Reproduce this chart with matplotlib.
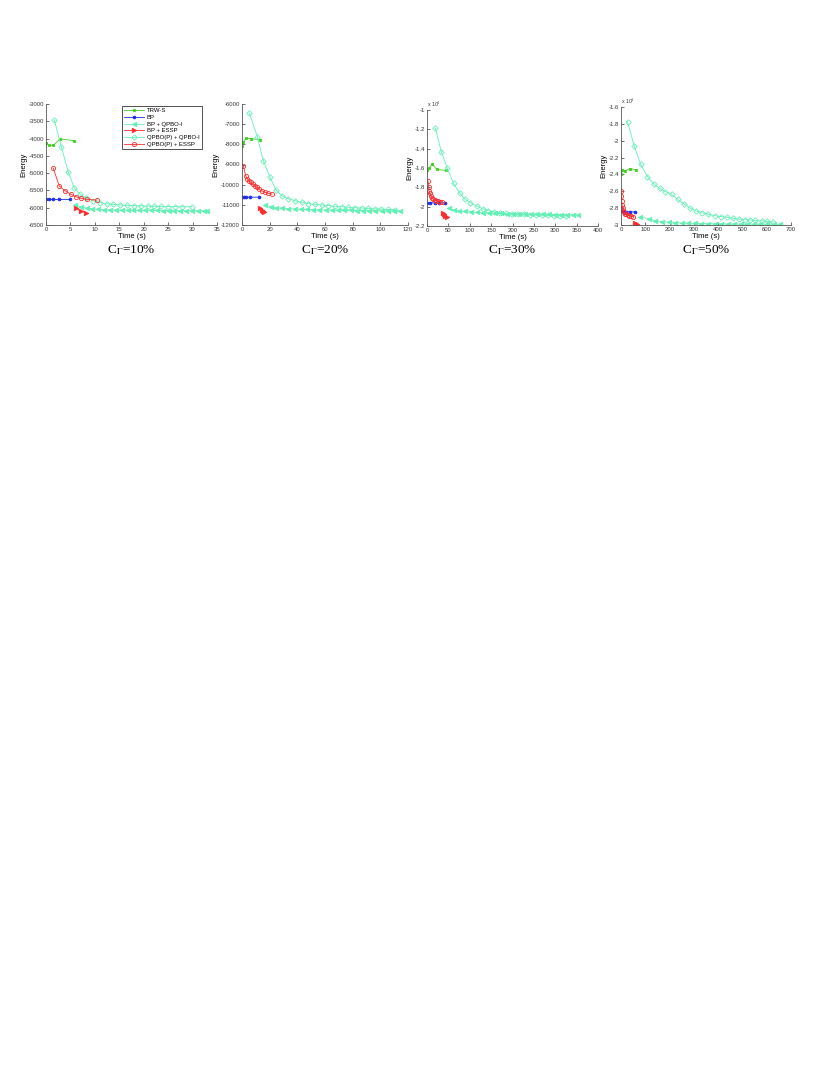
import matplotlib
matplotlib.use("Agg")
import matplotlib.pyplot as plt
from matplotlib.ticker import FuncFormatter

plt.rcParams['font.family'] = ['Liberation Sans', 'DejaVu Sans']
plt.rcParams['axes.unicode_minus'] = False
plt.rcParams['mathtext.fontset'] = 'stix'

W, H = 830, 1075

# series names and captions
names = ['TRW-S', 'BP', 'BP + QPBO-I', 'BP + ESSP', 'QPBO(P) + QPBO-I', 'QPBO(P) + ESSP']
captions = ['10%', '20%', '30%', '50%']

# ---- C = 10% ----
t1_trws = [0.1, 0.7, 1.5, 2.9, 5.7]
e1_trws = [-4140, -4200, -4190, -4010, -4060]
t1_bp = [0.1, 0.6, 1.4, 2.7, 4.9]
e1_bp = [-5750, -5750, -5750, -5750, -5750]
t1_bpq = [5.9, 7.1, 8.3, 9.5, 10.7, 11.9, 13.1, 14.3, 15.5, 16.7, 17.9, 19.1,
          20.3, 21.5, 22.7, 23.9, 25.1, 26.3, 27.5, 28.7, 29.9, 31.1, 32.3, 33.0]
e1_bpq = [-5920, -5975, -6015, -6035, -6050, -6058, -6063, -6067, -6070, -6072, -6074, -6076,
          -6077, -6078, -6080, -6081, -6082, -6083, -6084, -6085, -6086, -6087, -6088, -6090]
t1_bpe = [6.1, 7.1, 8.2]
e1_bpe = [-6010, -6100, -6140]
t1_qq = [1.7, 3.15, 4.55, 5.8, 7.0, 8.2, 9.6, 11.0, 12.4, 13.8, 15.2, 16.6, 18.0, 19.4,
         20.8, 22.2, 23.6, 25.0, 26.4, 27.8, 29.8]
e1_qq = [-3465, -4240, -4965, -5430, -5615, -5710, -5800, -5850, -5885, -5905, -5920, -5932,
         -5940, -5947, -5953, -5958, -5962, -5966, -5969, -5972, -5975]
t1_qe = [1.5, 2.7, 3.9, 5.1, 6.1, 7.2, 8.4, 10.4]
e1_qe = [-4860, -5370, -5510, -5615, -5680, -5730, -5760, -5780]

# ---- C = 20% ----
t2_trws = [0.2, 1.0, 3.2, 6.5, 13.2]
e2_trws = [-8100, -7880, -7700, -7720, -7770]
t2_bp = [0.3, 1.6, 3.0, 6.0, 12.3]
e2_bp = [-10620, -10610, -10620, -10620, -10620]
t2_bpq = [16.6, 20.7, 24.6, 28.7, 33.5, 38.0, 42.5, 47.0, 51.5, 56.0, 60.5, 65.0,
          69.5, 74.0, 78.5, 83.0, 87.5, 92.0, 96.5, 101.0, 105.5, 110.0, 114.5]
e2_bpq = [-11025, -11090, -11140, -11160, -11190, -11205, -11220, -11230, -11240, -11250,
          -11256, -11262, -11268, -11273, -11278, -11283, -11287, -11291, -11295, -11298,
          -11302, -11305, -11310]
t2_bpe = [13.0, 14.2, 15.4, 16.1]
e2_bpe = [-11175, -11255, -11305, -11340]
t2_qq = [5.3, 11.1, 15.4, 20.2, 24.6, 29.1, 33.5, 38.3, 43.1, 47.9, 52.8, 57.6, 62.4,
         67.2, 72.0, 76.8, 81.6, 86.4, 91.2, 96.0, 100.8, 105.6, 110.4]
e2_qq = [-6460, -7620, -8810, -9635, -10265, -10560, -10695, -10795, -10875, -10940,
         -10975, -11008, -11040, -11070, -11095, -11120, -11140, -11160, -11180, -11200,
         -11215, -11230, -11245]
t2_qe = [1.0, 2.7, 3.9, 5.1, 6.5, 7.7, 9.4, 10.6, 12.3, 14.2, 16.6, 19.0, 21.8]
e2_qe = [-9075, -9570, -9720, -9800, -9885, -9965, -10050, -10130, -10230, -10300,
         -10380, -10430, -10470]

# ---- C = 30% ----
t3_trws = [1, 5, 12.5, 22.7, 43.7]
e3_trws = [-16200, -16000, -15600, -16150, -16250]
t3_bp = [1, 8, 19, 28, 41]
e3_bp = [-19620, -19600, -19600, -19600, -19600]
t3_bpq = [51, 63, 75, 90, 104, 118, 132, 146, 160, 174, 188, 202, 216, 230, 244, 258,
          272, 286, 300, 314, 328, 342, 354]
e3_bpq = [-20170, -20340, -20440, -20500, -20550, -20590, -20620, -20650, -20670, -20690,
          -20710, -20730, -20745, -20760, -20775, -20790, -20800, -20810, -20820, -20830,
          -20840, -20845, -20850]
t3_bpe = [37, 40, 43, 46]
e3_bpe = [-20650, -20800, -20950, -21050]
t3_qq = [19.5, 33.5, 47, 62, 76.5, 88, 101, 116, 130, 143, 156, 170, 184, 198, 212, 226,
         240, 254, 268, 282, 296, 310, 324]
e3_qq = [-11890, -14310, -15980, -17580, -18580, -19200, -19570, -19930, -20220, -20400,
         -20530, -20620, -20690, -20740, -20780, -20810, -20840, -20860, -20880, -20900,
         -20920, -20935, -20950]
t3_qe = [2.3, 4, 4.7, 6.3, 8.6, 11, 14, 18, 21.8, 25.7, 30, 34]
e3_qe = [-17340, -18000, -18340, -18620, -18890, -19070, -19200, -19310, -19380, -19440,
         -19480, -19500]

# ---- C = 50% ----
t4_trws = [1, 5, 16, 37, 62]
e4_trws = [-24000, -23500, -23600, -23300, -23450]
t4_bp = [1, 8, 20, 38, 58]
e4_bp = [-28300, -28350, -28400, -28450, -28450]
t4_bpq = [80, 115, 142, 169, 196, 223, 250, 277, 304, 331, 358, 385, 412, 439, 466, 493,
          520, 547, 574, 601, 628, 655]
e4_bpq = [-29000, -29300, -29500, -29600, -29680, -29720, -29760, -29790, -29810, -29830,
          -29840, -29850, -29860, -29870, -29875, -29880, -29885, -29890, -29895, -29900,
          -29905, -29910]
t4_bpe = [58, 62, 65]
e4_bpe = [-29750, -29850, -29900]
t4_qq = [27, 54, 81, 109, 136, 160, 183, 208, 233, 258, 285, 309, 335, 360, 387, 410,
         435, 460, 487, 510, 531, 552, 580, 600, 627]
e4_qq = [-17740, -20590, -22800, -24270, -25170, -25650, -26050, -26360, -26950, -27470,
         -28000, -28340, -28560, -28730, -28900, -29000, -29080, -29200, -29300, -29370,
         -29400, -29460, -29500, -29560, -29640]
t4_qe = [0.5, 2, 3, 4.5, 6.5, 9, 12, 16, 21, 27, 34, 42, 50]
e4_qe = [-26000, -26600, -27200, -27600, -28000, -28300, -28500, -28650, -28750, -28850,
         -28900, -28950, -29000]

panels = [
    [(t1_trws, e1_trws), (t1_bp, e1_bp), (t1_bpq, e1_bpq), (t1_bpe, e1_bpe), (t1_qq, e1_qq), (t1_qe, e1_qe)],
    [(t2_trws, e2_trws), (t2_bp, e2_bp), (t2_bpq, e2_bpq), (t2_bpe, e2_bpe), (t2_qq, e2_qq), (t2_qe, e2_qe)],
    [(t3_trws, e3_trws), (t3_bp, e3_bp), (t3_bpq, e3_bpq), (t3_bpe, e3_bpe), (t3_qq, e3_qq), (t3_qe, e3_qe)],
    [(t4_trws, e4_trws), (t4_bp, e4_bp), (t4_bpq, e4_bpq), (t4_bpe, e4_bpe), (t4_qq, e4_qq), (t4_qe, e4_qe)],
]

# styling per series: color, marker, size, filled
green = '#3ad11a'
blue = '#1a2cf0'
mint = '#62f0b4'
red = '#ff2a2a'
styles = [
    (green, 's', 2.0, True),
    (blue, 'o', 2.0, True),
    (mint, '<', 3.2, True),
    (red, '>', 3.2, True),
    (mint, 'D', 2.8, False),
    (red, 'o', 3.0, False),
]

# axes boxes in pixels: left, right, top, bottom
boxes = [(46, 217, 104, 225), (242, 408, 104, 225), (427, 598, 110, 226), (621, 791, 107, 225)]
xlims = [(0, 35), (0, 120), (0, 400), (0, 700)]
xsteps = [5, 20, 50, 100]
ylims = [(-6500, -3000), (-12000, -6000), (-22000, -10000), (-30000, -16000)]
ysteps = [500, 1000, 2000, 2000]
scaled = [False, False, True, True]

fig = plt.figure(figsize=(W / 100.0, H / 100.0), dpi=100)

for k in range(4):
    l, r, t, b = boxes[k]
    ax = fig.add_axes([l / W, 1 - b / H, (r - l) / W, (b - t) / H])
    handles = []
    for (xs, ys), (c, m, ms, filled) in zip(panels[k], styles):
        h, = ax.plot(xs, ys, color=c, lw=0.6, marker=m, ms=ms, mew=0.6,
                     mfc=c if filled else 'none', mec=c)
        handles.append(h)
    ax.set_xlim(*xlims[k])
    ax.set_ylim(*ylims[k])
    x0, x1 = xlims[k]
    ax.set_xticks(list(range(x0, x1 + 1, xsteps[k])))
    y0, y1 = ylims[k]
    ax.set_yticks(list(range(y0, y1 + 1, ysteps[k])))
    if scaled[k]:
        ax.yaxis.set_major_formatter(FuncFormatter(lambda v, p: '%g' % (v / 1e4)))
        ax.text(0.0, 1.0, r'x 10$^4$', transform=ax.transAxes, fontsize=3.8,
                ha='left', va='bottom', color='#333333')
    ax.spines['top'].set_visible(False)
    ax.spines['right'].set_visible(False)
    for s in ('left', 'bottom'):
        ax.spines[s].set_linewidth(0.6)
        ax.spines[s].set_color('#555555')
    ax.tick_params(direction='in', length=2, width=0.5, labelsize=4.3, pad=1.5,
                   colors='#333333')
    ax.set_xlabel('Time (s)', fontsize=5.5, labelpad=0.5)
    ax.set_ylabel('Energy', fontsize=5.5, labelpad=1)
    ax.set_facecolor('none')

    fig.text((l + r) / 2 / W, 1 - 250 / H, r'C$_{\Gamma}$=' + captions[k],
             family=['Liberation Serif', 'DejaVu Serif'], fontsize=9.5,
             ha='center', va='center')

    if k == 0:
        leg = ax.legend(handles, names, loc='upper left', bbox_to_anchor=(0.445, 0.985),
                        fontsize=4.3, frameon=True, fancybox=False, edgecolor='black',
                        handlelength=3.2, handletextpad=0.5, borderpad=0.4,
                        labelspacing=0.25, borderaxespad=0)
        leg.get_frame().set_linewidth(0.6)

fig.savefig('out.png', dpi=100)
